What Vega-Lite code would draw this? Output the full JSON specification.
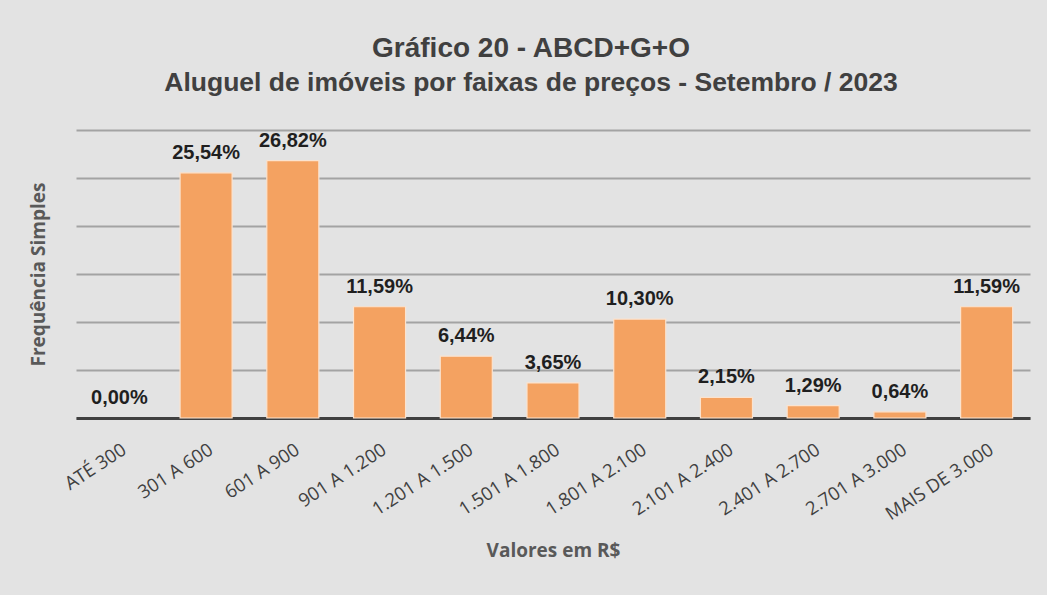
{
  "$schema": "https://vega.github.io/schema/vega-lite/v6.json",
  "width": 954,
  "height": 288,
  "autosize": {"type": "none"},
  "padding": {"left": 76, "top": 130, "right": 17, "bottom": 177},
  "background": "#e3e3e3",
  "title": {
    "text": "Gráfico 20 - ABCD+G+O",
    "subtitle": "Aluguel de imóveis por faixas de preços - Setembro / 2023",
    "anchor": "middle",
    "dx": -22,
    "offset": 34,
    "font": "Liberation Sans",
    "fontSize": 28,
    "fontWeight": "bold",
    "color": "#404040",
    "subtitleFont": "Liberation Sans",
    "subtitleFontSize": 26.5,
    "subtitleFontWeight": "bold",
    "subtitleColor": "#404040",
    "subtitlePadding": 7
  },
  "config": {
    "view": {"stroke": null},
    "axis": {"labelFont": "Open Sans", "titleFont": "Open Sans"},
    "locale": {
      "number": {"decimal": ",", "thousands": ".", "grouping": [3], "currency": ["R$", ""]}
    }
  },
  "data": {
    "values": [
      {"faixa": "ATÉ 300", "pct": 0.0},
      {"faixa": "301 A 600", "pct": 0.2554},
      {"faixa": "601 A 900", "pct": 0.2682},
      {"faixa": "901 A 1.200", "pct": 0.1159},
      {"faixa": "1.201 A 1.500", "pct": 0.0644},
      {"faixa": "1.501 A 1.800", "pct": 0.0365},
      {"faixa": "1.801 A 2.100", "pct": 0.1030},
      {"faixa": "2.101 A 2.400", "pct": 0.0215},
      {"faixa": "2.401 A 2.700", "pct": 0.0129},
      {"faixa": "2.701 A 3.000", "pct": 0.0064},
      {"faixa": "MAIS DE 3.000", "pct": 0.1159}
    ]
  },
  "encoding": {
    "x": {
      "field": "faixa",
      "type": "nominal",
      "sort": null,
      "scale": {"paddingInner": 0.4, "paddingOuter": 0.2},
      "axis": {
        "title": "Valores em R$",
        "titleFontSize": 19,
        "titleFontWeight": "bold",
        "titleColor": "#595959",
        "titlePadding": 18,
        "labelAngle": -33,
        "labelFontSize": 18.5,
        "labelColor": "#404040",
        "labelPadding": 22,
        "ticks": false,
        "domainColor": "#404040",
        "domainWidth": 3,
        "grid": false
      }
    },
    "y": {
      "field": "pct",
      "type": "quantitative",
      "scale": {"domain": [0, 0.3], "nice": false},
      "axis": {
        "title": "Frequência Simples",
        "titleFontSize": 19,
        "titleFontWeight": "bold",
        "titleColor": "#595959",
        "titlePadding": 28,
        "labels": false,
        "ticks": false,
        "domain": false,
        "values": [0, 0.05, 0.1, 0.15, 0.2, 0.25, 0.3],
        "grid": true,
        "gridColor": "#a3a3a3",
        "gridWidth": 2
      }
    }
  },
  "layer": [
    {
      "mark": {"type": "bar", "color": "#F4A261", "stroke": "#FBE3CF", "strokeWidth": 1.2},
      "encoding": {
        "strokeOpacity": {"condition": {"test": "datum.pct === 0", "value": 0}, "value": 1}
      }
    },
    {
      "mark": {
        "type": "text",
        "baseline": "bottom",
        "dy": -10,
        "font": "Liberation Sans",
        "fontSize": 20,
        "fontWeight": "bold",
        "color": "#1f1f1f"
      },
      "encoding": {
        "text": {"field": "pct", "type": "quantitative", "format": ".2%"}
      }
    }
  ]
}
